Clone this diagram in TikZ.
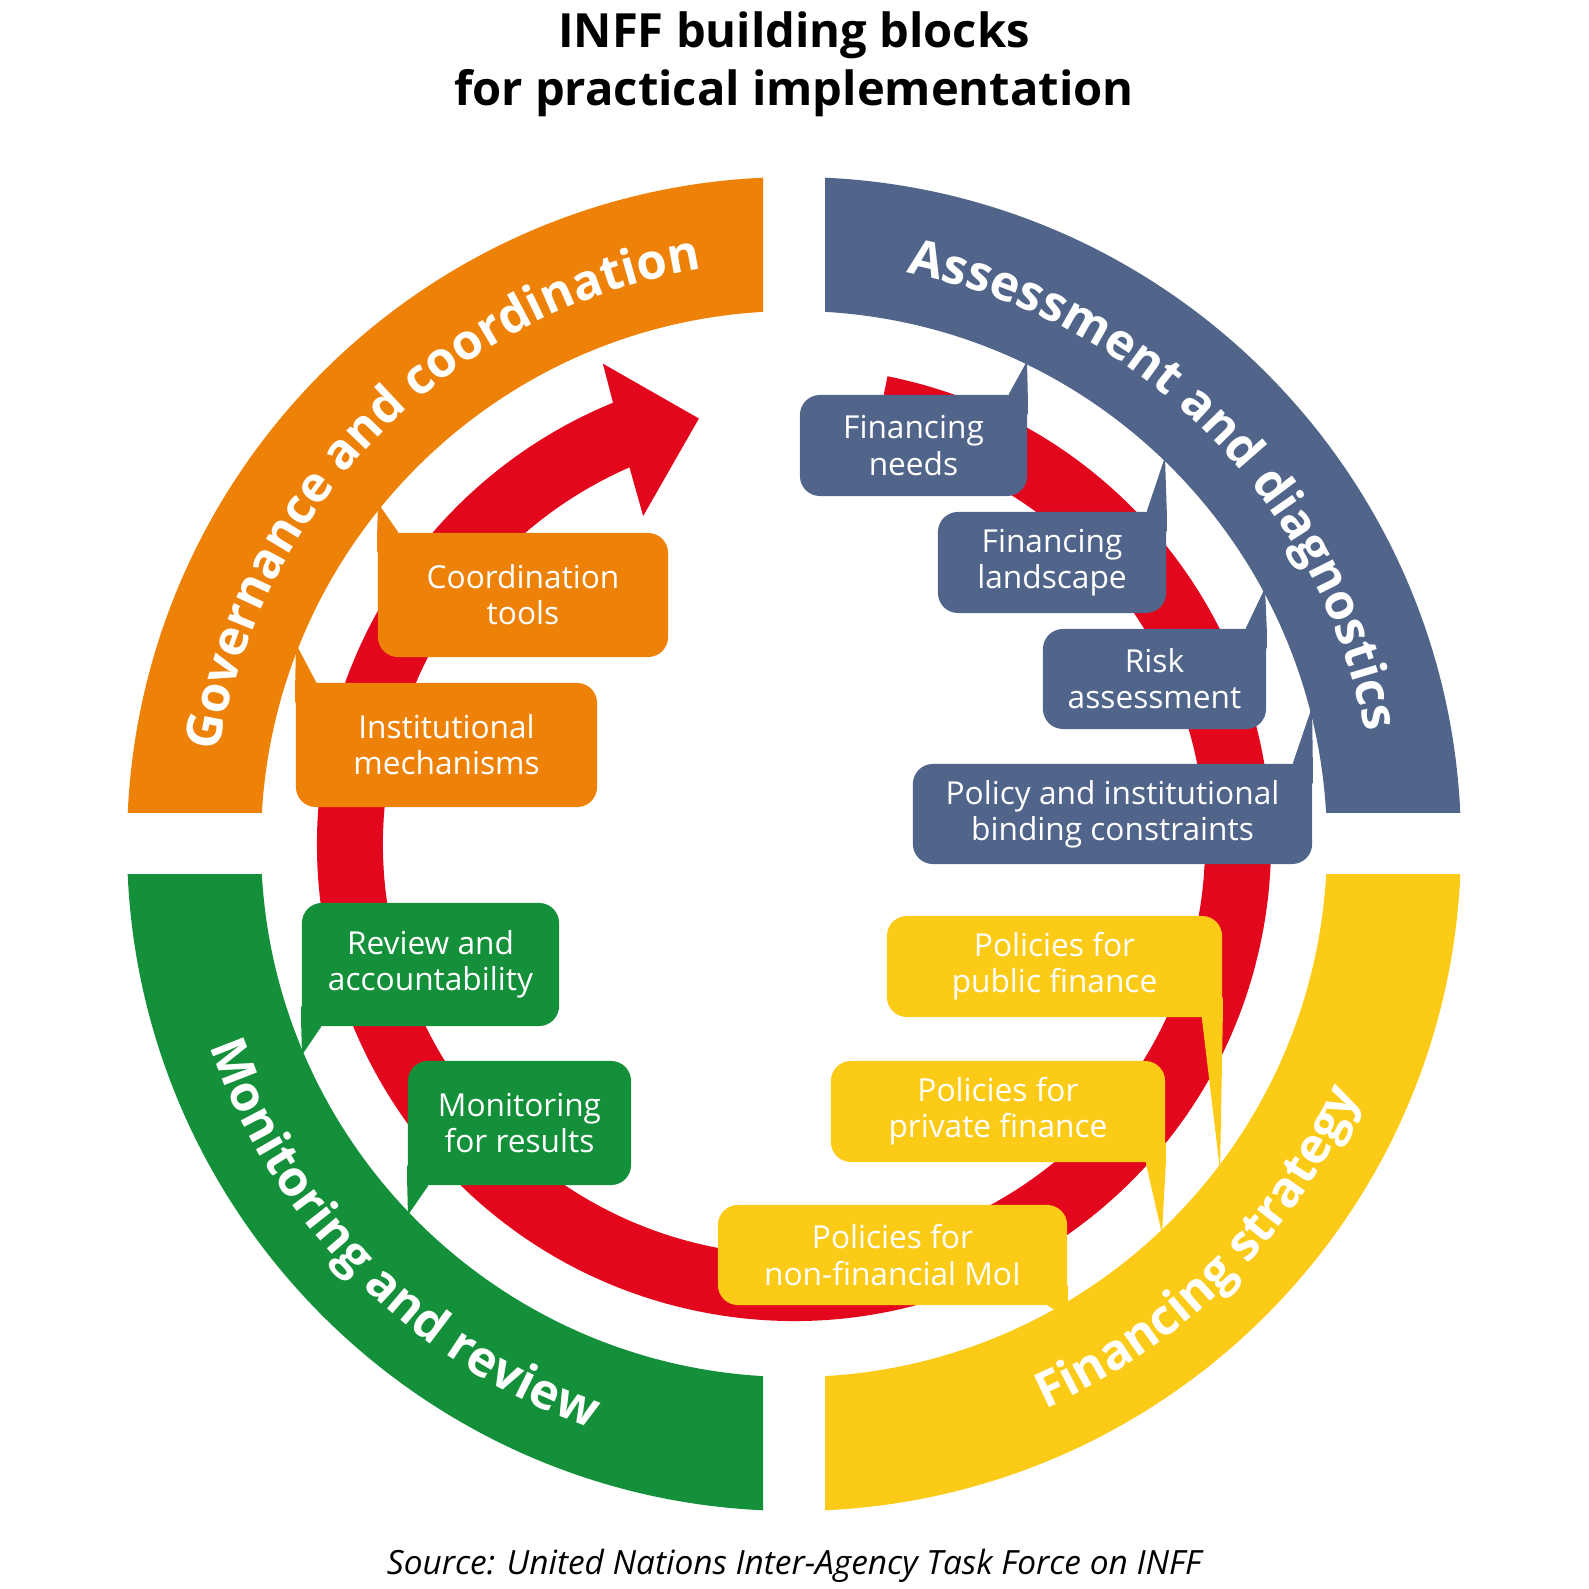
\documentclass[tikz,border=0pt]{standalone}
\usepackage{fontspec}
\setmainfont{Open Sans}
\usepackage{tikz}
\usetikzlibrary{decorations.text}
\usepackage{xcolor}
\definecolor{govc}{RGB}{238,130,8}
\definecolor{assc}{RGB}{81,100,138}
\definecolor{monc}{RGB}{21,144,58}
\definecolor{finc}{RGB}{252,203,24}
\definecolor{loopc}{RGB}{226,7,29}
\newcommand{\bandfont}{\bfseries\fontsize{14}{16}\selectfont}
\tikzset{
  quad/.style={even odd rule},
  callout/.style={rectangle,rounded corners=0.2cm,text=white,align=center,inner sep=0pt,font=\fontsize{9}{10.3}\selectfont},
  hdr/.style={font=\bfseries\fontsize{13.4}{16}\selectfont,anchor=base},
  bandlabel/.style={decorate,decoration={text along path,text align=center,text={|\bandfont\color{white}|#1}}},
}

\begin{document}
\begin{tikzpicture}[x=0.01cm,y=0.01cm]
  \useasboundingbox (-794,-745) rectangle (794,844);
  % title
  \node[hdr] (title1) at (0,796) {INFF building blocks};
  \node[hdr] (title2) at (0,738) {for practical implementation};
  % four blocks
  \foreach \col/\xa/\ya/\xb/\yb in {govc/-700/31/-31/700, assc/31/31/700/700, monc/-700/-31/-31/-700, finc/31/-31/700/-700}{
    \begin{scope}
      \clip (\xa,\ya) rectangle (\xb,\yb);
      \fill[\col,quad] (0,0) circle[radius=667] (0,0) circle[radius=533];
    \end{scope}}
  \path[bandlabel={Governance and coordination}] (180:582) arc[start angle=180,end angle=90,radius=582];
  \path[bandlabel={Assessment and diagnostics}] (90:582) arc[start angle=90,end angle=0,radius=582];
  \path[bandlabel={Monitoring and review}] (180:618) arc[start angle=180,end angle=270,radius=618];
  \path[bandlabel={Financing strategy}] (270:618) arc[start angle=270,end angle=360,radius=618];
  % red loop
  \fill[loopc] (78.7:477) arc[start angle=78.7,end angle=-247.7,radius=477] -- (111.7:517) -- (102.6:436)
    -- (114.7:361) -- (113.6:411) arc[start angle=-246.4,end angle=78.7,radius=411] -- cycle;
  % callouts
  \node[callout,fill=govc,minimum width=2.90cm,minimum height=1.24cm] (coord) at (-271,249) {Coordination\\tools};
  \node[callout,fill=govc,minimum width=3.01cm,minimum height=1.24cm] (inst) at (-347.5,99) {Institutional\\mechanisms};
  \node[callout,fill=assc,minimum width=2.27cm,minimum height=1.01cm] (needs) at (119.5,398.5) {Financing\\needs};
  \node[callout,fill=assc,minimum width=2.28cm,minimum height=1.01cm] (land) at (258,281.5) {Financing\\landscape};
  \node[callout,fill=assc,minimum width=2.23cm,minimum height=1.00cm] (risk) at (360.5,165) {Risk\\assessment};
  \node[callout,fill=assc,minimum width=3.99cm,minimum height=1.00cm] (bind) at (318.5,30) {Policy and institutional\\binding constraints};
  \node[callout,fill=monc,minimum width=2.57cm,minimum height=1.23cm] (review) at (-363.5,-120.5) {Review and\\accountability};
  \node[callout,fill=monc,minimum width=2.23cm,minimum height=1.24cm] (monit) at (-274.5,-279) {Monitoring\\for results};
  \node[callout,fill=finc,minimum width=3.35cm,minimum height=1.01cm] (pub) at (260.5,-122.5) {Policies for\\public finance};
  \node[callout,fill=finc,minimum width=3.34cm,minimum height=1.01cm] (priv) at (204,-267.5) {Policies for\\private finance};
  \node[callout,fill=finc,minimum width=3.49cm,minimum height=1.00cm] (moi) at (98.5,-411) {Policies for\\non-financial MoI};
  % tails
  \coordinate (coord-tip) at (-416,341);
  \coordinate (inst-tip) at (-498,200);
  \coordinate (needs-tip) at (233,483);
  \coordinate (land-tip) at (371,387);
  \coordinate (risk-tip) at (471,256);
  \coordinate (bind-tip) at (518,137);
  \coordinate (review-tip) at (-492,-211);
  \coordinate (monit-tip) at (-386,-371);
  \coordinate (pub-tip) at (426,-326);
  \coordinate (priv-tip) at (368,-390);
  \coordinate (moi-tip) at (271,-472);
  \foreach \n/\c/\sx/\sy/\col in {coord/north west/0.21cm/-0.2cm/govc, inst/north west/0.21cm/-0.2cm/govc,
      needs/north east/-0.19cm/-0.2cm/assc, land/north east/-0.2cm/-0.2cm/assc, risk/north east/-0.21cm/-0.2cm/assc,
      bind/north east/-0.2cm/-0.2cm/assc, review/south west/0.2cm/0.2cm/monc, monit/south west/0.21cm/0.2cm/monc,
      pub/south east/-0.21cm/0.2cm/finc, priv/south east/-0.2cm/0.2cm/finc, moi/south east/-0.2cm/0.2cm/finc}{
    \fill[\col] ([xshift=\sx]\n.\c) -- (\n-tip) -- (\n.\c) -- ([yshift=\sy]\n.\c) -- ([xshift=\sx,yshift=\sy]\n.\c) -- cycle;}
  % source
  \node[font=\itshape\fontsize{9.5}{11}\selectfont,anchor=base] (src) at (0,-730) {Source: United Nations Inter-Agency Task Force on INFF};
\end{tikzpicture}
\end{document}
